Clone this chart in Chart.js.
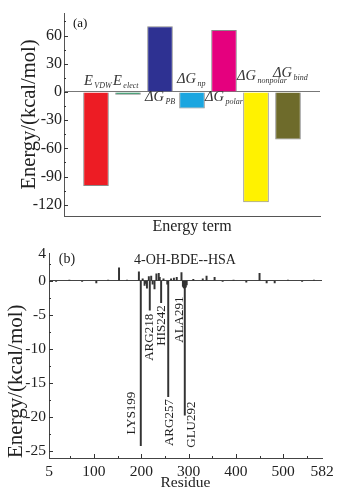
<!DOCTYPE html>
<html>
<head>
<meta charset="utf-8">
<script src="https://cdn.jsdelivr.net/npm/chart.js@4.4.1/dist/chart.umd.min.js"></script>
<style>
  html, body { margin: 0; padding: 0; background: #fff; }
  canvas { display: block; }
</style>
</head>
<body>
<canvas id="termChart" width="340" height="240"></canvas>
<canvas id="residueChart" width="340" height="254"></canvas>
<script>
// ---- (a) energy terms ----
const termMain = ["E", "E", "\u0394G", "\u0394G", "\u0394G", "\u0394G", "\u0394G"];
const termSub = ["VDW", "elect", "PB", "np", "polar", "nonpolar", "bind"];
const termSlots = [1, 2, 3, 4, 5, 6, 7];
const termEnergy = [-100, -3, 70, -17.5, 66, -117.5, -50.5];
const termTicks = [-120, -90, -60, -30, 0, 30, 60];

// ---- (b) per-residue decomposition ----
const residueTicks = [5, 100, 200, 300, 400, 500, 582];
const energyTicks = [-25, -20, -15, -10, -5, 0, 4];
const residues = [20, 48, 75, 105, 130, 153, 170, 195, 199, 203, 207, 210, 212, 216, 218, 221, 224, 228, 232, 237, 239, 242, 247, 255, 257, 263, 269, 275, 285, 288, 289, 290, 291, 292, 293, 294, 296, 310, 330, 338, 355, 372, 395, 422, 450, 465, 482, 510, 540, 565];
const residueEnergy = [-0.1, 0.1, -0.1, -0.3, 0.1, 1.9, 0.1, 1.3, -24.2, 0.3, -0.7, -0.4, -1.1, 0.6, -4.3, 0.7, -0.5, -1.2, 1.0, 1.1, 0.5, -3.2, 0.3, -0.5, -17.0, 0.3, 0.4, 0.5, 1.2, -0.8, -0.9, -1.0, -1.1, -19.7, -1.0, -0.9, -0.6, 0.2, 0.3, 0.7, 0.5, -0.1, 0.1, -0.2, 1.1, -0.3, -0.3, 0.1, -0.1, 0.1];
const hotNames = ["LYS199", "ARG218", "HIS242", "ARG257", "ALA291", "GLU292"];
const hotResidues = [199, 218, 242, 257, 291, 292];

// placement of the annotations (px offsets / label centre in energy units)
const termLabelPlace = [[-12, -7], [-15, -7], [-15, 9.5], [-15, -9], [-19, 9.5], [-19, -11.5], [-15, -14.5]];
const hotLabelPlace = [[-9.5, -19.4], [0, -8.3], [0.5, -6.55], [1.4, -20.8], [-4.7, -5.7], [7, -21.1]];

const serif = "'Liberation Serif', 'DejaVu Serif', serif";
Chart.defaults.font.family = serif;
Chart.defaults.color = "#222";

// inward tick marks
const innerTicks = {
  id: "innerTicks",
  afterDraw(chart, args, opts) {
    const { ctx, chartArea: a, scales } = chart;
    ctx.save();
    ctx.strokeStyle = "#333";
    ctx.lineWidth = 1;
    ctx.beginPath();
    (opts.y || []).forEach(([v, len]) => {
      const py = Math.round(scales.y.getPixelForValue(v)) + 0.5;
      ctx.moveTo(a.left, py);
      ctx.lineTo(a.left + len, py);
    });
    (opts.x || []).forEach(([v, len]) => {
      const px = Math.round(scales.x.getPixelForValue(v)) + 0.5;
      ctx.moveTo(px, a.bottom);
      ctx.lineTo(px, a.bottom - len);
    });
    ctx.stroke();
    ctx.restore();
  }
};

function tickList(major, minor) {
  return major.map(v => [v, 4]).concat(minor.map(v => [v, 2]));
}

// ------------------------------
// (a) bar labels with subscripts
// ------------------------------
const termLabels = {
  id: "termLabels",
  afterDatasetsDraw(chart) {
    const { ctx, scales } = chart;
    const zero = scales.y.getPixelForValue(0);
    ctx.save();
    ctx.fillStyle = "#333";
    ctx.textBaseline = "alphabetic";
    ctx.textAlign = "left";
    termSlots.forEach((s, i) => {
      const cx = scales.x.getPixelForValue(s);
      const [dx, dy] = termLabelPlace[i];
      const x = cx + dx, y = zero + dy;
      ctx.font = "italic 14.5px " + serif;
      ctx.fillText(termMain[i], x, y);
      const w = ctx.measureText(termMain[i]).width;
      ctx.font = "italic 8px " + serif;
      ctx.fillText(termSub[i], x + w + 1.5, y + 3);
    });
    ctx.font = "13px " + serif;
    ctx.fillStyle = "#111";
    ctx.fillText("(a)", chart.chartArea.left + 9, chart.chartArea.top + 14);
    ctx.restore();
  }
};

new Chart(document.getElementById("termChart"), {
  type: "bar",
  data: {
    datasets: [
      {
        data: termSlots.map((s, i) => ({ x: s, y: termEnergy[i] })),
        backgroundColor: ["#ED1C24", "#1E8C5A", "#2E3192", "#1BA6E0", "#E5007E", "#FFF200", "#6E6B2B"],
        borderColor: "#8a8a8a",
        borderWidth: 1,
        barPercentage: 0.8,
        categoryPercentage: 1
      }
    ]
  },
  options: {
    responsive: false,
    animation: false,
    layout: { padding: { top: 13, right: 20, left: 0, bottom: 0 } },
    plugins: {
      legend: { display: false },
      tooltip: { enabled: false },
      innerTicks: {
        y: tickList(termTicks, [-105, -75, -45, -15, 15, 45, 75])
      }
    },
    scales: {
      x: {
        type: "linear",
        min: 0,
        max: 8,
        offset: false,
        grid: { display: false },
        border: { display: true, color: "#555", width: 1 },
        ticks: { display: false },
        title: {
          display: true,
          text: "Energy term",
          font: { size: 16 },
          color: "#222",
          padding: { top: 0, bottom: 3.7 }
        },
        afterFit: s => { s.height = 24; }
      },
      y: {
        min: -132,
        max: 84,
        afterBuildTicks: s => { s.ticks = termTicks.map(v => ({ value: v })); },
        grid: {
          drawTicks: false,
          color: c => (c.tick && c.tick.value === 0 ? "#777" : "rgba(0,0,0,0)")
        },
        border: { display: true, color: "#555", width: 1 },
        ticks: { font: { size: 16 }, padding: 2, color: "#222" },
        title: {
          display: true,
          text: "Energy/(kcal/mol)",
          font: { size: 20.5 },
          color: "#222",
          padding: { top: 17.7, bottom: 0 }
        },
        afterFit: s => { s.width = 64; }
      }
    }
  },
  plugins: [innerTicks, termLabels]
});

// ------------------------------
// (b) residue labels
// ------------------------------
const residueLabels = {
  id: "residueLabels",
  afterDatasetsDraw(chart) {
    const { ctx, scales, chartArea } = chart;
    ctx.save();
    ctx.fillStyle = "#222";
    ctx.textAlign = "center";
    ctx.textBaseline = "middle";
    ctx.font = "13px " + serif;
    hotNames.forEach((name, i) => {
      const x = scales.x.getPixelForValue(hotResidues[i]) + hotLabelPlace[i][0];
      const y = scales.y.getPixelForValue(hotLabelPlace[i][1]);
      ctx.save();
      ctx.translate(x, y);
      ctx.rotate(-Math.PI / 2);
      ctx.fillText(name, 0, 0);
      ctx.restore();
    });
    ctx.font = "14px " + serif;
    ctx.fillText("4-OH-BDE--HSA", 185, 20);
    ctx.fillText("(b)", chartArea.left + 18, 19);
    ctx.restore();
  }
};

new Chart(document.getElementById("residueChart"), {
  type: "bar",
  data: {
    datasets: [
      {
        data: residues.map((r, i) => ({ x: r, y: residueEnergy[i] })),
        backgroundColor: "#333",
        barThickness: 1.3
      }
    ]
  },
  options: {
    responsive: false,
    animation: false,
    layout: { padding: { top: 13.5, right: 18, left: 0, bottom: 0 } },
    plugins: {
      legend: { display: false },
      tooltip: { enabled: false },
      innerTicks: {
        y: tickList([-25, -20, -15, -10, -5, 0], [-22.5, -17.5, -12.5, -7.5, -2.5, 2.5]),
        x: tickList([100, 200, 300, 400, 500], [50, 150, 250, 350, 450, 550])
      }
    },
    scales: {
      x: {
        type: "linear",
        min: 5,
        max: 582,
        offset: false,
        afterBuildTicks: s => { s.ticks = residueTicks.map(v => ({ value: v })); },
        grid: { display: false },
        border: { display: true, color: "#444", width: 1 },
        ticks: { font: { size: 15.5 }, padding: -3, maxRotation: 0, autoSkip: false, color: "#222" },
        title: {
          display: true,
          text: "Residue",
          font: { size: 15.5 },
          color: "#222",
          padding: { top: 0, bottom: 2 }
        },
        afterFit: s => { s.height = 36; }
      },
      y: {
        min: -26,
        max: 4,
        afterBuildTicks: s => { s.ticks = energyTicks.map(v => ({ value: v })); },
        grid: {
          drawTicks: false,
          color: c => (c.tick && c.tick.value === 0 ? "#444" : "rgba(0,0,0,0)")
        },
        border: { display: true, color: "#444", width: 1 },
        ticks: { font: { size: 15.5 }, padding: 3, color: "#222" },
        title: {
          display: true,
          text: "Energy/(kcal/mol)",
          align: "start",
          font: { size: 21 },
          color: "#222",
          padding: { top: 4.1, bottom: 0 }
        },
        afterFit: s => { s.width = 49; }
      }
    }
  },
  plugins: [innerTicks, residueLabels]
});
</script>
</body>
</html>
